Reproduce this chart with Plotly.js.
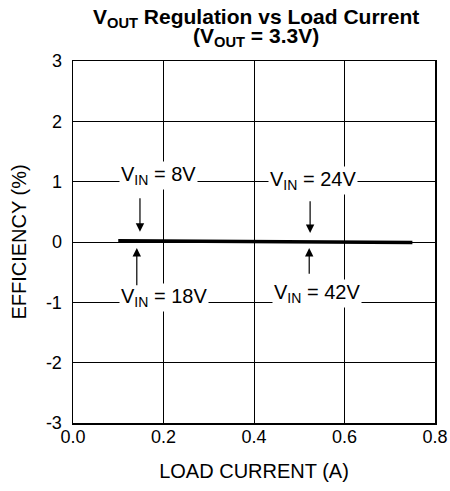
<!DOCTYPE html>
<html><head><meta charset="utf-8">
<script src="https://cdn.plot.ly/plotly-3.0.1.min.js"></script>
<style>html,body{margin:0;padding:0;background:#fff}#chart{width:450px;height:491px}</style>
</head><body><div id="chart"></div>
<script>
const loadCurrent = [0.10, 0.20, 0.30, 0.40, 0.50, 0.60, 0.75];
const regulation = [0.02, 0.015, 0.01, 0.0, 0.0, -0.005, -0.01];
const xTicks = [0, 0.2, 0.4, 0.6, 0.8];
const xTickText = ['0.0', '0.2', '0.4', '0.6', '0.8'];
const yTicks = [-3, -2, -1, 0, 1, 2, 3];
const yTickText = ['-3', '-2', '-1', '0', '1', '2', '3'];
const labels = ['V<sub>IN</sub> = 8V', 'V<sub>IN</sub> = 24V', 'V<sub>IN</sub> = 18V', 'V<sub>IN</sub> = 42V'];
const labelX = [0.19, 0.53, 0.20, 0.54];
const labelY = [1.1, 1.02, -0.92, -0.85];
const arrowX = [0.148, 0.524, 0.141, 0.522];
const arrowHeadY = [0.17, 0.15, -0.1, -0.1];
const arrowTailY = [0.75, 0.70, -0.74, -0.55];
const titleLines = ['<b>V<sub>OUT</sub> Regulation vs Load Current</b>', '<b>(V<sub>OUT</sub> = 3.3V)</b>'];

const fam = 'Arial, Liberation Sans, sans-serif';
const f = (s) => ({family: fam, size: s, color: '#000'});
const annotations = [];
labels.forEach((t, i) => {
  annotations.push({x: labelX[i], y: labelY[i], xref: 'x', yref: 'y', text: t, showarrow: false,
    bgcolor: '#fff', borderpad: 1, font: f(20)});
  annotations.push({x: arrowX[i], y: arrowHeadY[i], ax: arrowX[i], ay: arrowTailY[i], axref: 'x', ayref: 'y',
    xref: 'x', yref: 'y', text: '', showarrow: true, arrowhead: 2, arrowsize: 1.4, arrowwidth: 1.2, arrowcolor: '#000', standoff: 0});
});
annotations.push({xref: 'paper', yref: 'paper', x: 0.505, y: 1.119, xanchor: 'center', yanchor: 'middle',
  text: titleLines[0], showarrow: false, font: f(21)});
annotations.push({xref: 'paper', yref: 'paper', x: 0.505, y: 1.066, xanchor: 'center', yanchor: 'middle',
  text: titleLines[1], showarrow: false, font: f(21)});

const data = [{x: loadCurrent, y: regulation, type: 'scatter', mode: 'lines',
  line: {color: '#000', width: 3.5}, hoverinfo: 'none'}];

const layout = {
  width: 450, height: 491,
  margin: {l: 73, r: 15, t: 61, b: 68},
  paper_bgcolor: '#fff', plot_bgcolor: '#fff',
  showlegend: false,
  font: f(18),
  xaxis: {range: [0, 0.8], tickvals: xTicks, ticktext: xTickText, showgrid: true, gridcolor: '#000', gridwidth: 1,
    showline: true, linecolor: '#000', linewidth: 1.5, mirror: true, zeroline: false, ticks: '', ticklen: 0,
    ticklabelstandoff: -3, tickfont: f(18),
    title: {text: 'LOAD CURRENT (A)', font: f(20), standoff: 18}},
  yaxis: {range: [-3, 3], tickvals: yTicks, ticktext: yTickText, showgrid: true, gridcolor: '#000', gridwidth: 1,
    showline: true, linecolor: '#000', linewidth: 1.5, mirror: true, zeroline: false, ticks: '', ticklen: 0,
    ticklabelstandoff: 6, tickfont: f(18),
    title: {text: 'EFFICIENCY (%)', font: f(20), standoff: 14}},
  annotations: annotations
};
Plotly.newPlot('chart', data, layout, {displayModeBar: false, staticPlot: true});
</script></body></html>
